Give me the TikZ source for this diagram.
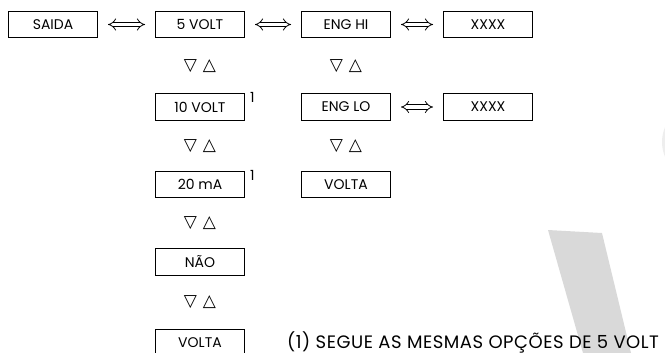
\documentclass[tikz,border=0pt]{standalone}
\usepackage{fontspec}
\setmainfont{Poppins}
\newfontfamily\symfont{DejaVu Sans}
\usetikzlibrary{arrows.meta,positioning}
\definecolor{markgrey}{HTML}{D9D9D9}

\begin{document}
\begin{tikzpicture}[x=1pt,y=1pt,node distance=56pt,menu/.style={draw, line width=1pt, minimum width=89pt, minimum height=26.5pt, inner sep=0pt, font=\fontsize{14}{16}\selectfont},keys/.style={font=\symfont\fontsize{17}{19}\selectfont},dbl/.style={double, double distance=3.5pt, line width=0.8pt, {Implies}-{Implies}, shorten <=10pt, shorten >=10pt},supnum/.style={anchor=north west, inner sep=0pt, font=\fontsize{14}{16}\selectfont},note/.style={inner sep=0pt, anchor=base west, font=\addfontfeatures{LetterSpace=3}\fontsize{18}{20}\selectfont},]
    \useasboundingbox (0,0) rectangle (665,-353);
    % grey marks on the scan
    \fill[markgrey] (548,-230) -- (602,-233) -- (631,-353) -- (583,-353) -- cycle;
    \fill[markgrey!45] (700,-142) circle (38);
    \node [menu] (box1) at (53,-24.5) {SAIDA};
    \node [menu, right=57pt of box1] (box2) {5 VOLT};
    \node [menu, right=56pt of box2] (box3) {ENG HI};
    \node [menu, right=52pt of box3] (box4) {XXXX};
    \node [menu, below=55pt of box2] (box5) {10 VOLT};
    \node [menu, below=50pt of box5] (box6) {20 mA};
    \node [menu, below=50pt of box6] (box7) {NÃO};
    \node [menu, below=53pt of box7] (box8) {VOLTA};
    \node [menu, below=55pt of box3] (box9) {ENG LO};
    \node [menu, right=52pt of box9] (box10) {XXXX};
    \node [menu, below=50pt of box9] (box11) {VOLTA};
    \node [supnum] (sup5) at ([xshift=5pt,yshift=1pt]box5.north east) {1};
    \node [supnum] (sup6) at ([xshift=5pt,yshift=1pt]box6.north east) {1};
    \node [note] (foot) at ([xshift=42pt,yshift=-5.5pt]box8.east) {(1) SEGUE AS MESMAS OPÇÕES DE 5 VOLT};
    \draw[dbl] (box1) -- (box2);
    \draw[dbl] (box2) -- (box3);
    \draw[dbl] (box3) -- (box4);
    \draw[dbl] (box9) -- (box10);
    \foreach \a/\b in {box2/box5,box5/box6,box6/box7,box7/box8,box3/box9,box9/box11}
        \path (\a) -- node [keys] (keys-\a) {▽\hskip6pt△} (\b);
\end{tikzpicture}
\end{document}
